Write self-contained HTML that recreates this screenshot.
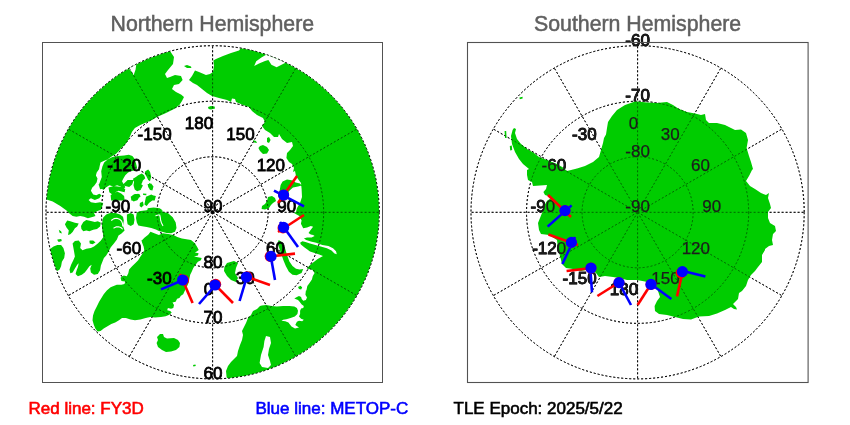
<!DOCTYPE html>
<html><head><meta charset="utf-8"><title>Polar passes</title>
<style>
html,body{margin:0;padding:0;background:#fff;}
body{width:850px;height:425px;overflow:hidden;font-family:"Liberation Sans",sans-serif;}
svg{display:block;will-change:transform;font-family:"Liberation Sans",sans-serif;}
.title{font-size:21.3px;fill:#606060;stroke:#606060;stroke-width:0.5px;}
.grat{fill:none;stroke:#000;stroke-width:1.0;stroke-dasharray:2 2;}
.gratN{fill:none;stroke:#000;stroke-width:1.0;stroke-dasharray:2 2;opacity:0.6;}
.gratS{fill:none;stroke:#000;stroke-width:1.0;stroke-dasharray:2 2;opacity:0.5;}
.labN text{font-size:17px;fill:#000;stroke:#000;stroke-width:0.8px;}
.labS text{font-size:17px;fill:#1c1c1c;stroke:#1c1c1c;stroke-width:0.25px;}
.mk line{stroke-width:2.6;}
.leg{font-size:17px;stroke-width:0.6px;}
</style></head><body>
<svg width="850" height="425" viewBox="0 0 850 425">
<defs>
<clipPath id="cn"><circle cx="212.6" cy="212.3" r="166.6"/></clipPath>
<clipPath id="cs"><circle cx="637.6" cy="212.3" r="166.6"/></clipPath>
</defs>
<rect width="850" height="425" fill="#fff"/>
<text class="title" x="212.3" y="30.8" text-anchor="middle">Northern Hemisphere</text>
<text class="title" x="637.6" y="30.8" text-anchor="middle">Southern Hemisphere</text>

<!-- NORTH -->
<g class="grat">
<circle cx="212.6" cy="212.3" r="55.53"/>
<circle cx="212.6" cy="212.3" r="111.07"/>
<circle cx="212.6" cy="212.3" r="166.60"/>
<line x1="212.6" y1="212.3" x2="212.60" y2="45.70"/>
<line x1="212.6" y1="212.3" x2="295.90" y2="68.02"/>
<line x1="212.6" y1="212.3" x2="356.88" y2="129.00"/>
<line x1="212.6" y1="212.3" x2="379.20" y2="212.30"/>
<line x1="212.6" y1="212.3" x2="356.88" y2="295.60"/>
<line x1="212.6" y1="212.3" x2="295.90" y2="356.58"/>
<line x1="212.6" y1="212.3" x2="212.60" y2="378.90"/>
<line x1="212.6" y1="212.3" x2="129.30" y2="356.58"/>
<line x1="212.6" y1="212.3" x2="68.32" y2="295.60"/>
<line x1="212.6" y1="212.3" x2="46.00" y2="212.30"/>
<line x1="212.6" y1="212.3" x2="68.32" y2="129.00"/>
<line x1="212.6" y1="212.3" x2="129.30" y2="68.02"/>
</g>
<g clip-path="url(#cn)"><path fill="#00cc00" d="M170.0,46.0 L170.0,51.0 L174.0,57.0 L173.0,64.0 L168.0,70.0 L165.0,74.0 L167.0,78.0 L170.0,77.0 L175.0,75.0 L181.0,76.0 L182.6,80.0 L179.0,84.0 L174.0,85.0 L172.0,89.0 L176.0,92.0 L181.0,94.4 L184.0,97.0 L182.0,101.0 L179.4,105.0 L174.0,109.0 L166.0,113.0 L157.0,117.0 L152.0,120.0 L140.3,125.0 L134.9,128.1 L131.9,131.9 L129.6,137.2 L127.3,141.8 L124.2,145.6 L121.2,147.9 L118.9,151.0 L115.8,154.1 L112.0,156.3 L107.4,159.4 L103.6,160.9 L100.5,162.5 L99.8,165.5 L99.0,169.3 L96.7,172.4 L95.9,175.5 L97.5,178.5 L96.7,182.3 L94.4,185.4 L92.1,187.7 L90.6,190.0 L94.8,183.1 L92.5,186.9 L90.9,190.7 L93.2,194.5 L96.3,195.3 L99.3,193.8 L101.6,195.3 L99.3,198.3 L94.8,199.9 L90.9,198.3 L88.6,199.9 L90.9,202.2 L95.5,202.9 L100.1,202.2 L103.2,202.9 L102.4,206.0 L100.9,209.8 L97.0,211.3 L94.0,212.9 L95.5,215.9 L93.2,216.7 L87.9,218.2 L84.0,216.7 L80.2,215.9 L76.4,216.7 L72.6,215.9 L69.5,213.6 L66.5,210.6 L63.4,208.3 L60.3,206.0 L56.5,203.7 L52.7,201.4 L48.1,199.9 L42.0,198.3 L30.0,180.0 L30.0,30.0 L170.0,30.0Z M102.4,166.5 L104.1,162.4 L107.6,159.4 L112.4,157.1 L118.2,155.9 L124.1,155.6 L128.8,154.7 L132.4,155.9 L134.5,158.8 L135.9,162.9 L137.1,167.6 L134.7,170.6 L130.0,171.2 L127.6,172.9 L125.3,175.3 L123.5,178.2 L122.0,181.2 L123.5,184.1 L125.3,187.1 L124.1,188.8 L120.6,186.5 L117.1,185.3 L113.5,186.5 L109.4,185.3 L105.9,187.6 L103.5,190.0 L101.2,188.2 L98.8,185.3 L100.0,181.8 L101.8,177.1 L101.2,171.2Z M132.9,178.8 L135.9,177.1 L138.2,175.3 L141.8,173.5 L144.1,175.3 L145.3,178.2 L142.9,180.6 L141.8,183.5 L139.4,185.3 L141.8,187.6 L140.6,190.0 L137.1,191.2 L134.7,189.4 L133.5,185.3 L134.1,181.8Z M145.3,171.2 L148.2,169.4 L150.0,171.8 L151.2,176.5 L150.0,181.2 L148.2,180.0 L146.5,176.5 L144.7,173.5Z M147.6,184.1 L151.2,183.5 L153.5,186.5 L152.4,190.6 L150.0,190.0 L148.2,187.1Z M110.6,195.3 L113.5,192.9 L117.6,191.8 L121.2,193.5 L124.1,195.9 L124.7,200.6 L111.2,200.6Z M131.2,196.5 L134.7,194.1 L139.4,194.1 L140.6,196.5 L138.2,198.2 L137.1,200.6 L131.2,200.6Z M142.9,193.5 L146.5,193.8 L146.2,195.3 L143.2,195.1Z M148.8,197.1 L152.4,195.3 L155.9,195.9 L154.7,200.6 L148.2,200.6Z M98.6,184.6 L100.9,181.5 L104.7,180.0 L107.7,182.3 L106.2,186.1 L103.2,188.4 L100.1,189.2Z M108.5,187.6 L113.9,186.1 L121.5,186.9 L125.3,189.2 L124.6,192.2 L121.5,191.5 L118.5,190.7 L115.4,192.2 L112.3,194.5 L109.3,192.2Z M110.8,196.8 L115.4,195.3 L118.5,192.2 L121.5,194.5 L123.8,196.8 L121.5,199.1 L118.5,199.9 L115.4,201.4 L112.3,200.6Z M123.0,184.6 L127.6,180.0 L133.7,180.0 L132.2,184.6 L129.2,186.9 L125.3,186.1Z M130.7,196.8 L133.7,194.5 L138.3,193.8 L139.9,196.1 L137.6,199.9 L133.7,201.4 L131.4,199.9Z M133.7,184.6 L139.9,183.1 L142.9,185.4 L141.4,188.4 L137.6,189.2 L134.5,187.6Z M146.0,196.8 L151.3,194.5 L154.4,196.1 L152.9,199.9 L149.0,202.9 L146.7,206.0 L144.4,204.5 L145.2,200.6Z M149.0,183.1 L152.1,184.6 L151.3,189.2 L149.0,188.4Z M139.9,202.9 L142.9,201.4 L143.7,205.2 L141.4,207.5 L139.6,206.0Z M126.9,214.4 L130.7,212.9 L133.7,214.4 L134.5,219.8 L133.7,224.3 L130.7,225.9 L127.6,224.3 L126.9,219.8Z M136.8,212.9 L142.9,214.4 L149.0,213.6 L155.1,212.9 L158.2,214.4 L159.7,218.2 L159.0,222.8 L155.1,224.3 L149.0,223.6 L144.4,225.1 L139.9,225.9 L137.6,222.8 L136.8,218.2Z M147.5,208.3 L153.6,207.5 L159.7,208.3 L162.8,210.6 L158.2,212.1 L152.1,212.1 L148.3,211.3Z M64.9,224.3 L67.2,220.5 L70.3,221.3 L74.9,222.8 L78.7,223.6 L77.2,226.6 L74.9,228.2 L72.6,232.0 L70.3,234.3 L68.0,235.0 L68.8,230.5 L66.5,227.4Z M81.0,225.9 L83.3,222.0 L86.3,220.1 L90.9,221.0 L94.8,222.0 L97.8,221.3 L100.9,222.8 L100.1,226.6 L97.0,228.9 L93.2,229.7 L89.4,231.2 L86.3,230.5 L83.3,231.2 L81.4,228.9Z M58.8,229.7 L61.1,231.2 L61.9,233.5 L59.6,232.8Z M57.3,239.6 L61.1,238.9 L61.9,240.4 L58.1,241.2Z M89.4,240.4 L93.2,240.4 L95.5,242.7 L91.7,243.5Z M330.0,40.0 L395.0,120.0 L395.0,300.0 L330.0,395.0 L230.0,395.0 L228.0,380.0 L226.6,377.0 L226.0,371.0 L228.0,366.0 L231.0,362.0 L235.0,358.0 L237.0,356.0 L238.0,351.0 L240.0,345.0 L242.0,340.0 L243.0,335.0 L242.0,331.0 L244.0,327.0 L246.0,323.0 L248.0,318.0 L251.0,315.0 L253.0,311.0 L257.0,309.0 L260.0,306.0 L261.9,305.4 L266.2,304.9 L271.5,306.0 L276.8,306.5 L283.1,306.0 L289.5,306.0 L294.3,306.5 L296.9,308.1 L298.0,310.7 L297.4,313.9 L294.8,316.5 L290.6,318.1 L286.3,319.2 L283.1,319.7 L281.5,320.8 L285.3,321.3 L288.4,322.4 L291.5,326.5 L295.0,328.5 L299.0,327.5 L295.3,325.0 L296.9,321.8 L299.0,320.8 L302.2,321.3 L303.8,319.7 L301.1,318.7 L299.0,316.5 L300.1,313.9 L300.1,310.7 L301.1,308.6 L303.3,308.1 L303.8,306.0 L301.7,304.4 L299.6,301.7 L298.0,299.9 L294.3,298.5 L296.9,296.9 L299.0,295.9 L301.1,296.9 L301.7,299.1 L303.3,300.7 L305.9,300.1 L307.0,297.5 L305.4,294.8 L305.9,290.6 L306.4,290.5 L307.3,285.9 L309.7,282.8 L311.9,279.4 L312.8,275.9 L314.6,272.9 L312.3,269.8 L306.7,268.4 L309.3,265.7 L313.1,262.5 L317.7,259.1 L323.0,256.1 L319.2,254.5 L314.6,253.0 L310.0,251.5 L307.0,249.2 L303.9,246.9 L300.9,244.6 L300.1,242.8 L302.4,241.3 L305.5,242.0 L310.0,243.6 L315.4,245.1 L320.7,246.6 L326.9,248.2 L331.5,250.5 L334.5,253.5 L336.8,254.3 L336.0,251.2 L333.0,248.2 L328.4,245.9 L322.3,245.1 L316.2,242.8 L310.8,241.6 L306.2,240.1 L303.9,238.5 L307.0,237.5 L311.6,237.5 L314.6,235.9 L313.1,234.9 L310.8,234.4 L308.5,232.9 L310.8,229.8 L313.1,226.8 L310.8,226.0 L307.0,227.5 L303.2,228.3 L300.9,223.7 L301.6,220.6 L299.3,216.1 L294.0,213.0 L296.0,212.0 L297.0,208.0 L300.0,203.0 L302.0,197.0 L301.6,189.0 L301.0,183.0 L298.0,179.0 L296.0,176.0 L295.0,171.0 L293.0,172.0 L294.0,168.0 L292.0,164.0 L289.0,162.0 L286.4,158.0 L287.0,153.0 L290.0,150.0 L293.0,146.0 L292.0,142.0 L287.0,143.0 L282.0,139.0 L279.0,134.0 L278.0,137.0 L274.0,137.0 L270.0,133.0 L265.0,130.0 L262.0,126.0 L265.0,122.0 L263.0,118.0 L257.0,115.0 L252.0,111.0 L249.0,107.0 L243.0,105.0 L236.0,102.0 L235.0,99.0 L232.0,98.4 L231.0,102.0 L227.0,100.0 L219.0,98.0 L212.0,96.0 L207.0,93.0 L202.0,89.0 L197.0,85.0 L193.0,83.0 L189.0,80.0 L192.0,76.0 L195.0,70.6 L199.0,72.0 L206.0,75.0 L210.0,74.0 L213.0,72.0 L214.0,66.0 L213.4,60.4 L216.0,59.0 L223.0,56.0 L231.0,53.0 L239.0,50.4 L241.0,48.0 L240.0,40.0Z M141.3,240.9 L144.4,237.8 L148.2,234.8 L150.5,231.7 L154.3,233.2 L158.9,235.1 L162.8,233.2 L168.1,234.0 L173.5,235.1 L177.3,237.0 L181.9,238.6 L186.5,239.3 L191.0,240.1 L194.9,243.2 L197.2,247.0 L198.7,250.0 L195.6,252.3 L192.6,253.9 L192.5,251.1 L194.8,252.6 L198.6,253.3 L197.9,255.6 L194.0,256.4 L197.9,257.2 L201.7,257.9 L200.9,260.2 L197.9,261.8 L195.6,264.8 L193.3,267.9 L191.7,271.7 L190.2,274.8 L189.4,278.6 L188.7,282.4 L186.3,288.1 L184.7,291.1 L183.2,294.2 L180.9,295.7 L179.4,298.0 L177.1,298.8 L175.6,301.8 L172.5,302.6 L174.0,304.9 L173.3,307.9 L171.0,308.7 L167.9,307.9 L167.2,310.2 L170.2,311.0 L171.7,312.5 L169.4,314.8 L165.6,316.3 L161.0,317.1 L154.9,317.4 L150.3,317.1 L145.7,317.9 L140.4,319.4 L135.0,320.2 L130.5,319.4 L125.9,317.9 L122.0,317.9 L119.0,320.2 L115.2,322.5 L111.3,324.0 L107.5,326.3 L103.7,328.6 L100.6,330.9 L97.6,331.6 L95.3,328.6 L93.8,324.8 L92.5,320.2 L93.0,315.6 L94.5,311.0 L96.8,306.4 L99.1,301.8 L101.4,298.0 L103.7,294.2 L106.8,290.4 L110.6,287.3 L113.0,286.2 L116.8,284.7 L121.4,284.7 L124.5,283.9 L125.2,281.6 L121.4,280.9 L120.6,277.8 L123.7,275.5 L126.8,276.3 L128.3,273.2 L129.1,269.4 L132.1,266.3 L135.2,263.3 L138.2,260.2 L140.5,256.4 L142.8,253.3 L144.3,250.3 L143.6,246.5 L142.0,242.6 L141.3,239.6Z M157.0,337.0 L160.0,334.0 L163.0,334.0 L164.0,337.0 L167.0,338.4 L174.0,338.0 L178.0,340.0 L180.0,343.0 L179.4,347.0 L176.0,350.0 L171.0,351.6 L166.0,352.0 L162.0,350.0 L158.0,347.0 L156.6,343.0 L158.0,340.0Z M193.0,365.0 L195.4,364.4 L195.8,366.0 L193.4,366.6Z M136.8,212.6 L140.6,211.1 L146.7,210.3 L148.2,208.5 L155.9,208.0 L160.5,209.5 L162.8,211.8 L168.1,213.3 L172.7,217.2 L175.7,222.5 L176.5,227.9 L175.0,231.7 L171.2,233.2 L166.6,232.9 L162.0,231.7 L158.9,230.9 L155.9,229.4 L151.3,227.9 L146.7,227.1 L142.1,226.3 L138.3,225.6 L136.8,222.5 L136.0,217.9Z M102.4,221.3 L103.2,217.5 L106.2,214.4 L110.0,212.9 L115.4,212.9 L120.0,214.4 L123.0,216.7 L123.8,220.5 L123.0,225.9 L124.6,230.5 L121.5,233.5 L118.5,235.4 L116.9,239.6 L113.9,243.4 L110.8,247.2 L108.5,251.8 L106.2,255.6 L103.9,257.9 L102.4,261.8 L100.9,265.6 L100.1,270.2 L97.8,274.0 L94.0,274.8 L90.9,272.5 L90.2,268.6 L91.7,264.8 L89.4,266.3 L87.1,269.4 L84.8,272.5 L81.8,274.8 L77.9,276.3 L75.6,274.0 L76.4,270.9 L77.9,267.1 L78.7,263.3 L77.2,264.8 L74.9,268.6 L72.6,272.5 L70.3,273.2 L69.5,269.4 L71.1,264.8 L73.3,260.2 L74.9,256.4 L74.1,251.8 L73.3,247.2 L72.6,243.4 L74.9,241.1 L78.7,240.4 L81.0,243.4 L80.2,248.0 L82.5,250.3 L86.3,248.8 L90.9,248.0 L94.0,246.5 L97.8,243.4 L100.9,240.4 L103.2,237.3 L103.2,235.0 L102.4,230.5 L101.9,225.9Z M46.6,244.2 L50.4,248.8 L53.5,246.5 L57.3,244.9 L61.1,244.9 L63.4,248.0 L64.9,253.3 L64.2,257.9 L61.9,261.8 L61.1,266.3 L59.6,269.4 L57.3,270.9 L55.0,267.9 L51.2,265.6 L45.1,253.3Z M57.3,240.4 L60.3,239.6 L61.9,241.1 L58.8,241.9Z M89.4,241.1 L93.2,240.4 L95.5,242.6 L92.5,244.2 L89.7,243.4Z M227.0,263.0 L234.0,261.0 L238.0,263.0 L236.0,268.0 L235.0,273.0 L238.0,278.0 L236.0,282.0 L231.0,280.0 L227.0,276.0 L224.0,271.0 L224.4,267.0Z M281.0,241.5 L284.8,247.6 L287.1,255.3 L289.4,261.4 L292.5,266.0 L296.0,268.7 L299.6,269.5 L303.2,269.1 L301.6,272.9 L296.6,275.2 L292.5,274.7 L288.9,271.8 L285.9,266.3 L283.4,260.2 L281.3,254.1 L279.2,248.0 L277.6,243.1 L278.7,240.0Z M268.0,197.0 L272.0,196.0 L275.0,198.0 L276.0,201.0 L273.0,203.0 L271.0,205.0 L269.0,208.0 L265.0,209.4 L261.6,209.0 L262.0,206.0 L265.0,204.0 L267.0,201.0Z M280.6,185.0 L282.6,181.6 L287.0,179.4 L291.6,180.2 L295.6,182.6 L300.0,183.4 L301.6,185.4 L298.0,186.6 L293.0,187.4 L289.6,190.6 L286.0,195.0 L282.0,197.0 L279.6,191.0Z M260.0,146.0 L263.0,145.0 L267.0,147.0 L269.0,150.0 L267.0,153.6 L263.0,154.0 L260.0,151.0 L258.4,148.0Z M267.0,138.0 L269.0,137.0 L270.6,140.0 L269.0,143.0 L267.0,142.0Z M253.0,140.0 L256.0,141.0 L257.0,143.0 L254.0,142.4Z M208.0,107.0 L211.0,106.0 L214.6,106.4 L215.0,108.4 L211.0,109.6 L208.6,109.0Z M184.0,66.0 L187.0,65.0 L191.0,66.4 L191.4,68.0 L187.0,68.0Z M298.0,286.9 L300.6,285.8 L302.2,287.4 L301.1,289.5 L299.0,289.0Z"/><path fill="#fff" d="M266.0,336.0 L270.0,337.0 L271.0,343.0 L269.0,349.0 L268.0,355.0 L270.0,361.0 L271.0,365.0 L268.0,368.0 L262.0,367.0 L259.6,363.0 L261.0,355.0 L263.6,347.0 L264.4,341.0Z M254.2,66.0 L256.2,61.2 L261.4,57.6 L266.6,54.4 L271.0,51.0 L289.0,54.0 L290.0,60.4 L282.0,64.4 L276.6,67.2 L271.4,64.8 L268.4,60.0 L265.0,61.0 L259.0,63.6Z M130.4,65.6 L136.4,63.6 L135.6,69.6 L133.6,75.2 L131.6,71.6 L129.2,69.2Z"/>
<g fill="none" stroke="#fff" stroke-width="1.1" stroke-linecap="round" stroke-linejoin="round">
<polyline points="111.6,220.3 114,218.6 116.9,218.2 119.5,219.2 121.5,221 122.5,223.5 122.7,226"/>
<polyline points="113.9,227.9 116,226.9 118.5,226.7 120.8,227.5 122.3,228.8"/>
<polyline points="155.9,215.8 158,215 159.7,215 160.3,217.5 160.6,220.2 161.5,223 162.8,225.6"/>
</g></g>
<g class="gratN">
<circle cx="212.6" cy="212.3" r="55.53"/>
<circle cx="212.6" cy="212.3" r="111.07"/>
<circle cx="212.6" cy="212.3" r="166.60"/>
<line x1="212.6" y1="212.3" x2="212.60" y2="45.70"/>
<line x1="212.6" y1="212.3" x2="295.90" y2="68.02"/>
<line x1="212.6" y1="212.3" x2="356.88" y2="129.00"/>
<line x1="212.6" y1="212.3" x2="379.20" y2="212.30"/>
<line x1="212.6" y1="212.3" x2="356.88" y2="295.60"/>
<line x1="212.6" y1="212.3" x2="295.90" y2="356.58"/>
<line x1="212.6" y1="212.3" x2="212.60" y2="378.90"/>
<line x1="212.6" y1="212.3" x2="129.30" y2="356.58"/>
<line x1="212.6" y1="212.3" x2="68.32" y2="295.60"/>
<line x1="212.6" y1="212.3" x2="46.00" y2="212.30"/>
<line x1="212.6" y1="212.3" x2="68.32" y2="129.00"/>
<line x1="212.6" y1="212.3" x2="129.30" y2="68.02"/>
</g>
<g class="labN">
<text x="171.6" y="140.4" text-anchor="end">-150</text>
<text x="141.2" y="170.8" text-anchor="end">-120</text>
<text x="130.1" y="212.3" text-anchor="end">-90</text>
<text x="141.2" y="253.8" text-anchor="end">-60</text>
<text x="171.6" y="284.2" text-anchor="end">-30</text>
<text x="213.1" y="295.3" text-anchor="end">0</text>
<text x="254.6" y="284.2" text-anchor="end">30</text>
<text x="285.0" y="253.8" text-anchor="end">60</text>
<text x="296.1" y="212.3" text-anchor="end">90</text>
<text x="285.0" y="170.8" text-anchor="end">120</text>
<text x="254.6" y="140.4" text-anchor="end">150</text>
<text x="213.1" y="129.3" text-anchor="end">180</text>
<text x="212.9" y="212.3" text-anchor="middle">90</text>
<text x="212.9" y="267.8" text-anchor="middle">80</text>
<text x="212.9" y="323.4" text-anchor="middle">70</text>
<text x="212.9" y="378.9" text-anchor="middle">60</text>
</g>
<g class="mk">
<line x1="278" y1="203" x2="297" y2="176" stroke="#ff0000"/>
<line x1="278" y1="232" x2="304" y2="215" stroke="#ff0000"/>
<line x1="265" y1="257" x2="295" y2="253.6" stroke="#ff0000"/>
<line x1="242" y1="275" x2="270" y2="285" stroke="#ff0000"/>
<line x1="211" y1="280.6" x2="233" y2="303" stroke="#ff0000"/>
<line x1="180" y1="274" x2="192.6" y2="303" stroke="#ff0000"/>
<line x1="274" y1="190.6" x2="304" y2="206.4" stroke="#0000ff"/>
<line x1="280" y1="222" x2="298" y2="247" stroke="#0000ff"/>
<line x1="270" y1="252" x2="275" y2="280" stroke="#0000ff"/>
<line x1="248" y1="273" x2="239.6" y2="301" stroke="#0000ff"/>
<line x1="219" y1="281" x2="199" y2="304" stroke="#0000ff"/>
<line x1="188" y1="278" x2="161" y2="289.4" stroke="#0000ff"/>
<circle cx="283.6" cy="195.0" r="5.5" fill="#ff0000"/>
<circle cx="283.6" cy="195.0" r="5.6" fill="#0000ff"/>
<circle cx="283.0" cy="227.9" r="5.5" fill="#ff0000"/>
<circle cx="283.6" cy="227.4" r="5.6" fill="#0000ff"/>
<circle cx="270.2" cy="256.4" r="5.5" fill="#ff0000"/>
<circle cx="271.0" cy="256.4" r="5.6" fill="#0000ff"/>
<circle cx="247.2" cy="276.7" r="5.5" fill="#ff0000"/>
<circle cx="246.4" cy="277.0" r="5.6" fill="#0000ff"/>
<circle cx="215.7" cy="284.3" r="5.5" fill="#ff0000"/>
<circle cx="215.0" cy="285.0" r="5.6" fill="#0000ff"/>
<circle cx="183.6" cy="280.0" r="5.5" fill="#ff0000"/>
<circle cx="182.6" cy="280.0" r="5.6" fill="#0000ff"/>
</g>
<rect x="42.5" y="42.5" width="340" height="340" fill="none" stroke="#525252" stroke-width="1"/>

<!-- SOUTH -->
<g class="grat">
<circle cx="637.6" cy="212.3" r="55.53"/>
<circle cx="637.6" cy="212.3" r="111.07"/>
<circle cx="637.6" cy="212.3" r="166.60"/>
<line x1="637.6" y1="212.3" x2="637.60" y2="45.70"/>
<line x1="637.6" y1="212.3" x2="720.90" y2="68.02"/>
<line x1="637.6" y1="212.3" x2="781.88" y2="129.00"/>
<line x1="637.6" y1="212.3" x2="804.20" y2="212.30"/>
<line x1="637.6" y1="212.3" x2="781.88" y2="295.60"/>
<line x1="637.6" y1="212.3" x2="720.90" y2="356.58"/>
<line x1="637.6" y1="212.3" x2="637.60" y2="378.90"/>
<line x1="637.6" y1="212.3" x2="554.30" y2="356.58"/>
<line x1="637.6" y1="212.3" x2="493.32" y2="295.60"/>
<line x1="637.6" y1="212.3" x2="471.00" y2="212.30"/>
<line x1="637.6" y1="212.3" x2="493.32" y2="129.00"/>
<line x1="637.6" y1="212.3" x2="554.30" y2="68.02"/>
</g>
<g class="labN">
<text x="596.6" y="284.2" text-anchor="end">-150</text>
<text x="566.2" y="253.8" text-anchor="end">-120</text>
<text x="555.1" y="212.3" text-anchor="end">-90</text>
<text x="566.2" y="170.8" text-anchor="end">-60</text>
<text x="596.6" y="140.4" text-anchor="end">-30</text>
<text x="638.1" y="129.3" text-anchor="end">0</text>
<text x="679.6" y="140.4" text-anchor="end">30</text>
<text x="710.0" y="170.8" text-anchor="end">60</text>
<text x="721.1" y="212.3" text-anchor="end">90</text>
<text x="710.0" y="253.8" text-anchor="end">120</text>
<text x="679.6" y="284.2" text-anchor="end">150</text>
<text x="638.1" y="295.3" text-anchor="end">180</text>
<text x="637.6" y="212.3" text-anchor="middle">-90</text>
<text x="637.6" y="156.8" text-anchor="middle">-80</text>
<text x="637.6" y="101.2" text-anchor="middle">-70</text>
<text x="637.6" y="45.7" text-anchor="middle">-60</text>
</g>
<g clip-path="url(#cs)"><path fill="#00cc00" d="M514.0,128.0 L516.0,129.0 L515.0,133.0 L517.0,139.0 L521.0,144.0 L527.0,149.0 L534.0,153.0 L539.0,157.0 L547.0,160.0 L557.0,164.0 L563.0,167.6 L567.0,171.0 L577.0,168.4 L585.0,166.0 L593.0,162.0 L599.0,157.0 L601.0,150.0 L603.0,143.0 L604.0,138.0 L606.0,134.4 L607.0,128.0 L608.0,122.0 L612.0,116.0 L617.0,110.0 L625.0,105.0 L635.0,101.6 L637.0,101.6 L647.0,102.4 L657.0,103.0 L667.0,102.0 L673.0,105.0 L679.0,109.0 L687.0,112.0 L695.0,113.6 L701.0,115.0 L705.0,114.0 L706.0,120.0 L709.0,123.0 L717.0,123.0 L725.0,125.0 L731.0,128.0 L735.0,130.0 L741.0,129.6 L746.0,133.0 L748.0,140.0 L746.6,148.0 L749.0,156.0 L751.0,162.0 L753.0,169.0 L752.0,170.0 L749.0,176.0 L746.0,181.0 L750.0,186.0 L755.0,189.0 L761.0,193.0 L766.0,195.0 L769.0,193.0 L768.0,198.0 L770.0,204.0 L771.0,208.0 L768.0,212.0 L768.0,218.0 L770.0,223.0 L775.0,226.0 L776.0,231.0 L773.0,234.0 L772.0,240.0 L773.0,245.0 L769.0,246.0 L765.0,249.0 L765.0,250.0 L762.0,255.0 L762.0,262.0 L758.0,267.0 L755.0,271.0 L751.0,275.0 L748.0,280.0 L746.0,286.0 L742.0,291.0 L739.0,293.0 L738.0,299.0 L733.0,304.0 L736.0,307.0 L737.0,309.6 L734.0,309.0 L731.0,307.0 L725.0,310.0 L717.0,313.6 L709.0,316.0 L699.0,316.4 L691.0,319.6 L683.0,319.0 L675.0,317.0 L667.0,315.0 L659.0,314.0 L655.0,311.0 L654.6,306.0 L657.0,301.0 L660.0,297.0 L657.0,288.0 L651.0,283.6 L645.0,281.6 L637.0,280.0 L627.0,280.0 L619.0,278.0 L613.0,277.0 L605.0,276.0 L599.0,277.0 L596.0,273.0 L590.6,269.0 L581.0,271.0 L573.0,269.0 L566.0,268.0 L562.0,264.0 L560.0,256.0 L558.0,248.0 L557.0,240.0 L549.0,235.0 L541.0,234.0 L539.0,230.0 L538.0,223.0 L540.0,218.0 L542.0,213.0 L544.0,206.0 L547.0,201.0 L551.0,198.0 L548.0,196.0 L545.0,195.0 L543.4,192.0 L546.0,189.0 L547.0,185.0 L540.0,185.6 L533.0,186.0 L532.0,182.0 L528.0,180.0 L527.0,175.0 L527.0,170.0 L529.0,169.0 L523.0,164.0 L519.0,159.0 L515.0,152.0 L512.0,144.0 L511.0,136.0 L512.6,130.0Z M504.6,131.0 L506.2,131.0 L506.6,138.0 L505.0,138.0Z M509.8,146.0 L511.8,145.6 L512.2,150.0 L510.2,150.4Z M519.4,97.6 L522.6,96.8 L522.6,98.4 L519.8,99.2Z"/></g>
<g class="gratS">
<circle cx="637.6" cy="212.3" r="55.53"/>
<circle cx="637.6" cy="212.3" r="111.07"/>
<circle cx="637.6" cy="212.3" r="166.60"/>
<line x1="637.6" y1="212.3" x2="637.60" y2="45.70"/>
<line x1="637.6" y1="212.3" x2="720.90" y2="68.02"/>
<line x1="637.6" y1="212.3" x2="781.88" y2="129.00"/>
<line x1="637.6" y1="212.3" x2="804.20" y2="212.30"/>
<line x1="637.6" y1="212.3" x2="781.88" y2="295.60"/>
<line x1="637.6" y1="212.3" x2="720.90" y2="356.58"/>
<line x1="637.6" y1="212.3" x2="637.60" y2="378.90"/>
<line x1="637.6" y1="212.3" x2="554.30" y2="356.58"/>
<line x1="637.6" y1="212.3" x2="493.32" y2="295.60"/>
<line x1="637.6" y1="212.3" x2="471.00" y2="212.30"/>
<line x1="637.6" y1="212.3" x2="493.32" y2="129.00"/>
<line x1="637.6" y1="212.3" x2="554.30" y2="68.02"/>
</g>
<g class="labS">
<text x="596.6" y="284.2" text-anchor="end">-150</text>
<text x="566.2" y="253.8" text-anchor="end">-120</text>
<text x="555.1" y="212.3" text-anchor="end">-90</text>
<text x="566.2" y="170.8" text-anchor="end">-60</text>
<text x="596.6" y="140.4" text-anchor="end">-30</text>
<text x="638.1" y="129.3" text-anchor="end">0</text>
<text x="679.6" y="140.4" text-anchor="end">30</text>
<text x="710.0" y="170.8" text-anchor="end">60</text>
<text x="721.1" y="212.3" text-anchor="end">90</text>
<text x="710.0" y="253.8" text-anchor="end">120</text>
<text x="679.6" y="284.2" text-anchor="end">150</text>
<text x="638.1" y="295.3" text-anchor="end">180</text>
<text x="637.6" y="212.3" text-anchor="middle">-90</text>
<text x="637.6" y="156.8" text-anchor="middle">-80</text>
<text x="637.6" y="101.2" text-anchor="middle">-70</text>
<text x="637.6" y="45.7" text-anchor="middle">-60</text>
</g>
<g class="mk">
<line x1="548" y1="195" x2="571" y2="217" stroke="#ff0000"/>
<line x1="548.4" y1="234.6" x2="578" y2="245" stroke="#ff0000"/>
<line x1="566.6" y1="271" x2="595" y2="267.6" stroke="#ff0000"/>
<line x1="597.4" y1="296" x2="623" y2="280" stroke="#ff0000"/>
<line x1="637.6" y1="305" x2="653" y2="281" stroke="#ff0000"/>
<line x1="677" y1="296.4" x2="683" y2="270" stroke="#ff0000"/>
<line x1="571.6" y1="205.4" x2="547.6" y2="226.6" stroke="#0000ff"/>
<line x1="575" y1="237" x2="562.4" y2="264" stroke="#0000ff"/>
<line x1="590" y1="264" x2="592" y2="292.4" stroke="#0000ff"/>
<line x1="617" y1="279" x2="631" y2="305" stroke="#0000ff"/>
<line x1="648" y1="282" x2="671.4" y2="299" stroke="#0000ff"/>
<line x1="679" y1="270" x2="705.4" y2="276.4" stroke="#0000ff"/>
<circle cx="565.0" cy="210.6" r="5.5" fill="#ff0000"/>
<circle cx="565.0" cy="210.6" r="5.6" fill="#0000ff"/>
<circle cx="571.4" cy="242.4" r="5.5" fill="#ff0000"/>
<circle cx="571.4" cy="242.4" r="5.6" fill="#0000ff"/>
<circle cx="591.0" cy="268.0" r="5.5" fill="#ff0000"/>
<circle cx="591.0" cy="268.0" r="5.6" fill="#0000ff"/>
<circle cx="619.0" cy="282.6" r="5.5" fill="#ff0000"/>
<circle cx="619.0" cy="282.6" r="5.6" fill="#0000ff"/>
<circle cx="651.0" cy="284.4" r="5.5" fill="#ff0000"/>
<circle cx="651.0" cy="284.4" r="5.6" fill="#0000ff"/>
<circle cx="681.1" cy="272.8" r="5.5" fill="#ff0000"/>
<circle cx="682.4" cy="271.6" r="5.6" fill="#0000ff"/>
</g>
<rect x="467.5" y="42.5" width="340.6" height="340" fill="none" stroke="#525252" stroke-width="1.1"/>

<text class="leg" x="28.5" y="413.6" fill="#ff0000" stroke="#ff0000">Red line: FY3D</text>
<text class="leg" x="255.5" y="413.6" fill="#0000ff" stroke="#0000ff">Blue line: METOP-C</text>
<text class="leg" x="453.5" y="413.6" fill="#000" stroke="#000">TLE Epoch: 2025/5/22</text>
</svg>
</body></html>
